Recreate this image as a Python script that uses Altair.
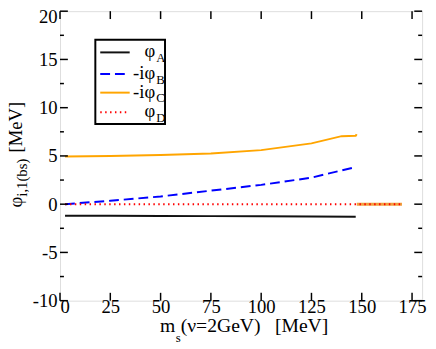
import altair as alt
import pandas as pd

# ---- data ----
ms_A = [2.5, 25, 50, 75, 100, 125, 147]
phi_A = [-1.2, -1.21, -1.22, -1.24, -1.26, -1.28, -1.3]

ms_B = [2.5, 25, 50, 75, 100, 125, 147]
phi_B = [0.0, 0.35, 0.8, 1.4, 2.0, 2.75, 3.85]

ms_C = [2.5, 25, 50, 75, 100, 125, 140, 147, 147.5]
phi_C = [4.95, 5.0, 5.1, 5.25, 5.6, 6.3, 7.05, 7.1, 7.25]

ms_tail = [147.5, 170]
phi_tail = [0.0, 0.0]

ms_D = [2.5, 170]
phi_D = [0.0, 0.0]

x_ticks = [0, 25, 50, 75, 100, 125, 150, 175]
y_ticks = [-10, -5, 0, 5, 10, 15, 20]
y_minor = [-7.5, -2.5, 2.5, 7.5, 12.5, 17.5]

legend_main = ["φ", "-iφ", "-iφ", "φ"]
legend_sub = ["A", "B", "C", "D"]

W, H = 369, 295
FONT = "Liberation Serif"
LBL = 19

xs = alt.Scale(domain=[0, 180], nice=False)
ys = alt.Scale(domain=[-10, 20], nice=False)

def series(xv, yv):
    return pd.DataFrame({"ms": xv, "phi": yv})

base_x = alt.X("ms:Q", scale=xs, axis=alt.Axis(values=x_ticks, ticks=False, domain=False, grid=False,
                                               labelFont=FONT, labelFontSize=LBL, labelColor="black",
                                               labelPadding=-3, title=None, labelExpr="'' + datum.value"))
base_y = alt.Y("phi:Q", scale=ys, axis=alt.Axis(values=y_ticks, ticks=False, domain=False, grid=False,
                                                labelFont=FONT, labelFontSize=LBL, labelColor="black",
                                                labelPadding=3, title=None, labelExpr="'' + datum.value",
                                                labelBaseline=alt.condition("datum.value == 20", alt.value("top"), alt.value("middle")),
                                                labelOffset=alt.condition("datum.value == 20", alt.value(-3), alt.value(0))))

line_C = alt.Chart(series(ms_C, phi_C)).mark_line(color="#ffa500", strokeWidth=2).encode(x=base_x, y=base_y)
line_T = alt.Chart(series(ms_tail, phi_tail)).mark_line(color="#f0a040", strokeWidth=3).encode(x="ms:Q", y="phi:Q")
line_A = alt.Chart(series(ms_A, phi_A)).mark_line(color="#111111", strokeWidth=2).encode(x="ms:Q", y="phi:Q")
line_B = alt.Chart(series(ms_B, phi_B)).mark_line(color="#0000ff", strokeWidth=2, strokeDash=[10, 5]).encode(x="ms:Q", y="phi:Q")
line_D = alt.Chart(series(ms_D, phi_D)).mark_line(color="#ff0000", strokeWidth=2, strokeDash=[1.5, 3.5]).encode(x="ms:Q", y="phi:Q")

# inward ticks
def hticks(vals, length, side):
    df = pd.DataFrame({"v": vals})
    if side == "left":
        x0, x1 = 0, length
    else:
        x0, x1 = W - length, W
    return alt.Chart(df).mark_rule(color="black", strokeWidth=1.5).encode(
        y=alt.Y("v:Q"), x=alt.value(x0), x2=alt.value(x1))

def vticks(vals, length, side):
    df = pd.DataFrame({"v": vals})
    if side == "bottom":
        y0, y1 = H - length, H
    else:
        y0, y1 = 0, length
    return alt.Chart(df).mark_rule(color="black", strokeWidth=1.5).encode(
        x=alt.X("v:Q"), y=alt.value(y0), y2=alt.value(y1))

tick_layers = [
    hticks(y_ticks, 8, "left"), hticks(y_minor, 4, "left"),
    hticks(y_ticks, 8, "right"), hticks(y_minor, 4, "right"),
    vticks(x_ticks, 8, "bottom"), vticks(x_ticks, 8, "top"),
]

# legend
one = pd.DataFrame({"a": [0]})
leg = [alt.Chart(one).mark_rect(fill="white", stroke="black", strokeWidth=2).encode(
    x=alt.value(36), x2=alt.value(107), y=alt.value(29), y2=alt.value(115))]
leg_rows_y = [42, 64, 83, 103]
leg_styles = [dict(color="#111111"), dict(color="#0000ff", strokeDash=[10, 5]),
              dict(color="#ffa500"), dict(color="#ff0000", strokeDash=[1.5, 3.5])]
for i, yy in enumerate(leg_rows_y):
    leg.append(alt.Chart(one).mark_rule(strokeWidth=2, **leg_styles[i]).encode(
        x=alt.value(41), x2=alt.value(71), y=alt.value(yy)))
    leg.append(alt.Chart(pd.DataFrame({"t": [legend_main[i]]})).mark_text(
        font=FONT, fontSize=19, align="right", baseline="middle", color="black").encode(
        x=alt.value(97), y=alt.value(yy - 1), text="t:N"))
    leg.append(alt.Chart(pd.DataFrame({"t": [legend_sub[i]]})).mark_text(
        font=FONT, fontSize=13, align="left", baseline="middle", color="black").encode(
        x=alt.value(98), y=alt.value(yy + 6), text="t:N"))

# axis titles (with subscripts)
def txt(s, x, y, size, align="left", angle=0, baseline="alphabetic", font=FONT):
    kw = dict(font=font, fontSize=size, align=align, baseline=baseline, color="black")
    if angle:
        kw["angle"] = angle
    return alt.Chart(pd.DataFrame({"t": [s]})).mark_text(**kw).encode(
        x=alt.value(x), y=alt.value(y), text="t:N")

titles = [
    txt("m", 102, 327, 20),
    txt("s", 118, 337, 13),
    txt("(ν=2GeV)", 123, 327, 20),
    txt("[MeV]", 219, 327, 20),
    txt("φ", -39, 200, 19, angle=270),
    txt("i,1(bs)", -34, 189, 15, angle=270),
    txt("[MeV]", -39, 144, 19, angle=270),
]

chart = alt.layer(line_C, line_T, line_A, line_B, line_D, *tick_layers, *leg, *titles).properties(
    width=W, height=H,
    autosize=alt.AutoSizeParams(type="none"),
    padding={"left": 53, "top": 0, "right": 6, "bottom": 46},
).configure_view(stroke="black", strokeWidth=2).configure(background="white")

chart.save("out.html", embed_options={"renderer": "svg", "actions": False})
